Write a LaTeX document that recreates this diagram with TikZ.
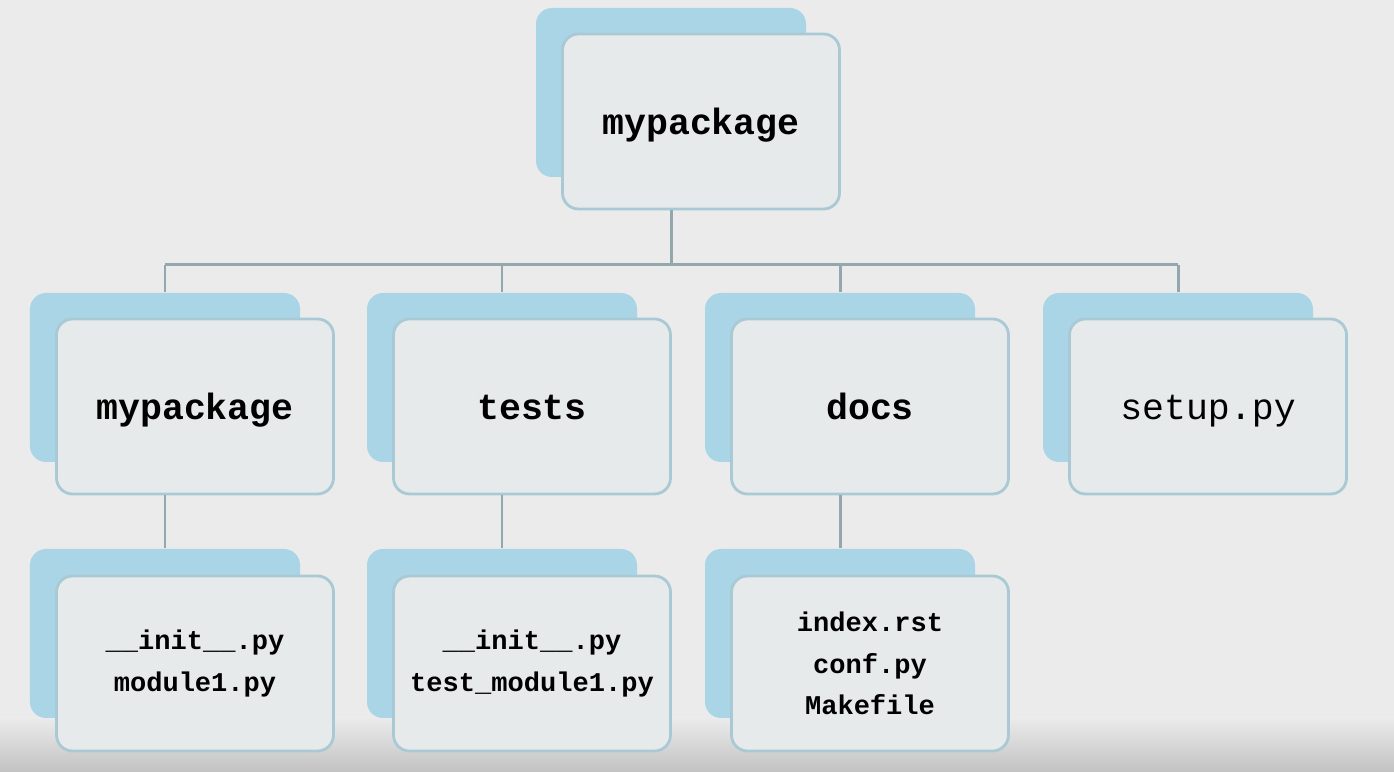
\documentclass[tikz,border=0pt]{standalone}
\usepackage{fontspec}
\setmonofont{Liberation Mono}
\usetikzlibrary{positioning}
\definecolor{bgcol}{HTML}{EBEBEB}
\definecolor{bandcol}{HTML}{C2C2C2}
\definecolor{cardfill}{HTML}{E7EAEB}
\definecolor{cardedge}{HTML}{A9CAD5}
\definecolor{backfill}{HTML}{A9D5E6}
\definecolor{linkcol}{HTML}{93A8AE}
\tikzset{
	cardback/.style={fill=backfill, rounded corners=0.16cm, minimum width=2.70cm, minimum height=1.69cm},
	card/.style={draw=cardedge, line width=0.8pt, fill=cardfill, rounded corners=0.16cm,
		minimum width=2.77cm, minimum height=1.75cm, align=center},
	dirname/.style={font=\ttfamily\bfseries\fontsize{10.4}{12}\selectfont, text height=0.98em, text depth=0.25em},
	filename/.style={font=\ttfamily\fontsize{10.4}{12}\selectfont, text height=0.98em, text depth=0.25em},
	filelist/.style={font=\ttfamily\bfseries\fontsize{7.7}{11.8}\selectfont},
	link/.style={draw=linkcol, line width=0.85pt}
}
\begin{document}
\begin{tikzpicture}
	% background and the dark band at the bottom
	\fill[bgcol] (0,0) rectangle (13.94,-7.72);
	\shade[top color=bgcol, bottom color=bandcol] (0,-7.18) rectangle (13.94,-7.72);
	\useasboundingbox (0,0) rectangle (13.94,-7.72);

	% back cards
	\node[cardback] (b-top) at (6.71,-0.925) {};
	\node[cardback] (b-pkg) at (1.65,-3.775) {};
	\node[cardback] (b-tests) at (5.02,-3.775) {};
	\node[cardback] (b-docs) at (8.40,-3.775) {};
	\node[cardback] (b-setup) at (11.78,-3.775) {};
	\node[cardback] (b-pkg-sub) at (1.65,-6.335) {};
	\node[cardback] (b-tests-sub) at (5.02,-6.335) {};
	\node[cardback] (b-docs-sub) at (8.40,-6.335) {};

	% front cards
	\node[card, dirname] (top) at ([shift={(0.30,-0.29)}]b-top) {mypackage};
	\node[card, dirname] (pkg) at ([shift={(0.30,-0.29)}]b-pkg) {mypackage};
	\node[card, dirname] (tests) at ([shift={(0.30,-0.29)}]b-tests) {tests};
	\node[card, dirname] (docs) at ([shift={(0.30,-0.29)}]b-docs) {docs};
	\node[card, filename] (setup) at ([shift={(0.30,-0.29)}]b-setup) {setup.py};
	\node[card, filelist] (pkg-sub) at ([shift={(0.30,-0.30)}]b-pkg-sub) {\_\_init\_\_.py\\module1.py};
	\node[card, filelist] (tests-sub) at ([shift={(0.30,-0.30)}]b-tests-sub) {\_\_init\_\_.py\\test\_module1.py};
	\node[card, filelist] (docs-sub) at ([shift={(0.30,-0.30)}]b-docs-sub) {index.rst\\conf.py\\Makefile};

	% tree lines
	\coordinate (bus) at (0,-2.65);
	\draw[link] (top.south -| b-top) -- (bus -| b-top);
	\draw[link] (bus -| b-pkg) -- (bus -| b-setup);
	\foreach \n in {pkg,tests,docs,setup}
		\draw[link] (bus -| b-\n) -- (b-\n.north);
	\foreach \n in {pkg,tests,docs}
		\draw[link] (\n.south -| b-\n) -- (b-\n-sub.north);
\end{tikzpicture}
\end{document}
